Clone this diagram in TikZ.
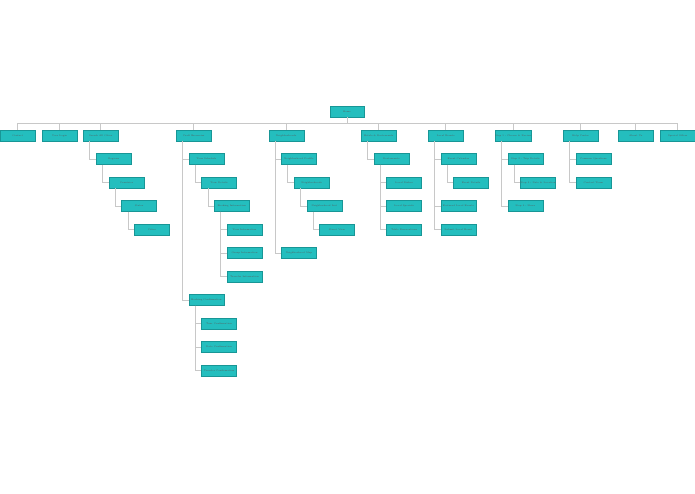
\documentclass[tikz,border=0pt]{standalone}
\definecolor{boxfill}{RGB}{36,190,190}
\definecolor{boxline}{RGB}{24,150,150}
\definecolor{linkgray}{RGB}{200,200,200}
\tikzset{
    pagebox/.style={draw=boxline, fill=boxfill, line width=0.4pt, minimum width=35pt, minimum height=11pt, inner sep=0pt, anchor=west, text=black!65, font=\fontsize{2.3}{2.8}\selectfont},
    link/.style={draw=linkgray, line width=0.5pt}
}
\begin{document}
\begin{tikzpicture}[x=1pt, y=-1pt] %sitemap
            \useasboundingbox (0,0) rectangle (695,494);

            % top level
            \node[pagebox, anchor=center, minimum width=34pt] (home) at (347,111.5) {Home};
            \node[pagebox] (contact) at (0,135.5) {Contact};
            \node[pagebox] (login) at (42,135.5) {User Login};
            \node[pagebox] (search) at (83,135.5) {Search All Cities};
            \node[pagebox] (tours) at (176,135.5) {Craft Breweries};
            \node[pagebox] (hoods) at (268.5,135.5) {Neighborhoods};
            \node[pagebox] (food) at (361,135.5) {Hotels \& Restaurants};
            \node[pagebox] (events) at (428,135.5) {Local Events};
            \node[pagebox] (step1) at (495,135.5) {Step 1 - Choose \& Review};
            \node[pagebox] (help) at (563,135.5) {Help Center};
            \node[pagebox] (about) at (618,135.5) {About Us};
            \node[pagebox] (offers) at (660,135.5) {Special Offers};

            \foreach \p in {contact,login,search,tours,hoods,food,events,step1,help,about,offers}
                \draw[link] (home.south) -- ++(0,6.5) -| (\p.north);

            % search
            \node[pagebox] (regions) at (96,159) {Regions};
            \node[pagebox] (countries) at (108.7,182.5) {Countries};
            \node[pagebox] (states) at (121.4,206) {States};
            \node[pagebox] (cities) at (134.1,229.5) {Cities};

            % tours
            \node[pagebox] (schedule) at (188.7,159) {Tour Schedule};
            \node[pagebox] (details) at (201.4,182.5) {Tour Details};
            \node[pagebox] (booking) at (214.1,206) {Booking Information};
            \node[pagebox] (info1) at (226.8,229.5) {Tour Information};
            \node[pagebox] (info2) at (226.8,253) {Group Information};
            \node[pagebox] (info3) at (226.8,276.5) {Traveler Information};
            \node[pagebox] (confirm) at (188.7,300) {Booking Confirmation};
            \node[pagebox] (conf1) at (201.4,323.5) {Tour Confirmation};
            \node[pagebox] (conf2) at (201.4,347) {Date Confirmation};
            \node[pagebox] (conf3) at (201.4,370.5) {Traveler Confirmation};

            % neighborhoods
            \node[pagebox] (profile) at (281.2,159) {Neighborhood Profile};
            \node[pagebox] (hoodlist) at (293.9,182.5) {Neighborhoods};
            \node[pagebox] (streets) at (306.6,206) {Neighborhood List};
            \node[pagebox] (street) at (319.3,229.5) {Street View};
            \node[pagebox] (hoodmap) at (281.2,253) {Neighborhood Map};

            % restaurants
            \node[pagebox] (restaurants) at (373.7,159) {Restaurants};
            \node[pagebox] (dishes) at (386.4,182.5) {Local Dishes};
            \node[pagebox] (specials) at (386.4,206) {Local Specials};
            \node[pagebox] (reserve) at (386.4,229.5) {Table Reservations};

            % events
            \node[pagebox] (calendar) at (440.7,159) {Event Calendar};
            \node[pagebox] (evdetails) at (453.4,182.5) {Event Details};
            \node[pagebox] (featured) at (440.7,206) {Featured Local Events};
            \node[pagebox] (submit) at (440.7,229.5) {Submit Local Event};

            % steps
            \node[pagebox] (step2) at (507.7,159) {Step 2 - Trip Details};
            \node[pagebox] (step3) at (520.4,182.5) {Step 3 - Date \& Location};
            \node[pagebox] (step4) at (507.7,206) {Step 4 - Share};

            % help
            \node[pagebox] (faq) at (575.7,159) {Common Questions};
            \node[pagebox] (team) at (575.7,182.5) {Contact Team};

            \foreach \p/\c in {search/regions, regions/countries, countries/states, states/cities,
                    tours/schedule, schedule/details, details/booking, booking/info1, booking/info2, booking/info3,
                    tours/confirm, confirm/conf1, confirm/conf2, confirm/conf3,
                    hoods/profile, profile/hoodlist, hoodlist/streets, streets/street, hoods/hoodmap,
                    food/restaurants, restaurants/dishes, restaurants/specials, restaurants/reserve,
                    events/calendar, calendar/evdetails, events/featured, events/submit,
                    step1/step2, step2/step3, step1/step4,
                    help/faq, help/team}
                \draw[link] (\p.south west) ++(6.4,0) |- (\c.west);
        \end{tikzpicture}
\end{document}
